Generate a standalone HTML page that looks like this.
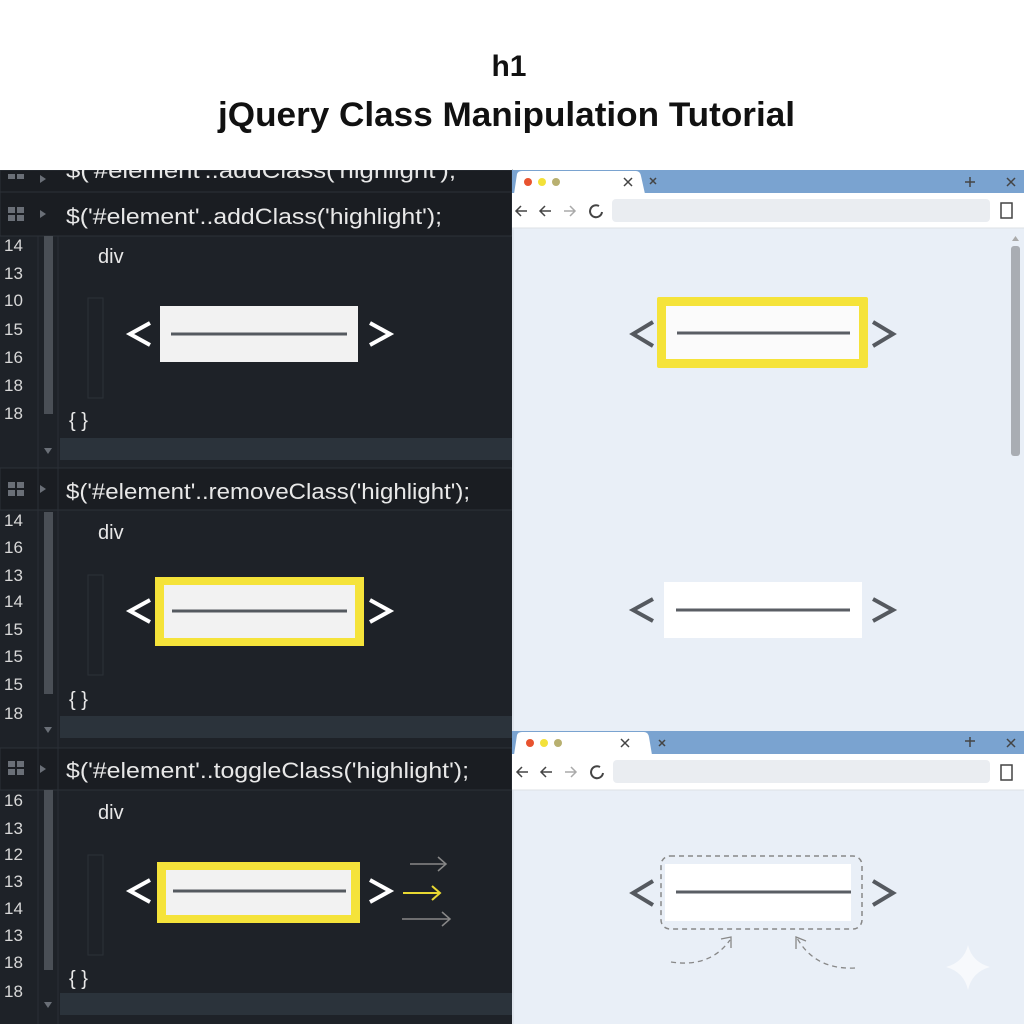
<!DOCTYPE html>
<html><head><meta charset="utf-8"><style>
html,body{margin:0;padding:0;background:#fff;}
svg{display:block;}
text{font-family:"Liberation Sans",sans-serif;}
</style></head><body>
<svg width="1024" height="1024" viewBox="0 0 1024 1024" xmlns="http://www.w3.org/2000/svg">
<rect width="1024" height="1024" fill="#fff"/>
<text x="509" y="76" font-size="30" font-weight="bold" text-anchor="middle" fill="#111">h1</text>
<text x="218" y="126" font-size="34" font-weight="bold" fill="#111" textLength="577" lengthAdjust="spacingAndGlyphs">jQuery Class Manipulation Tutorial</text>

<!-- LEFT PANEL -->
<rect x="0" y="170" width="512" height="854" fill="#1e2228"/>
<g fill="#1a1d22" stroke="#2c3138" stroke-width="1">
<rect x="0" y="170" width="512" height="22"/>
<rect x="0" y="192" width="512" height="44"/>
<rect x="0" y="468" width="512" height="42"/>
<rect x="0" y="748" width="512" height="42"/>
</g>
<line x1="38" y1="236" x2="38" y2="1024" stroke="#2a2f36"/>
<line x1="58" y1="236" x2="58" y2="1024" stroke="#2a2f36"/>
<g fill="#6a6f77">
<rect x="8" y="174" width="7" height="5"/><rect x="17" y="174" width="7" height="5"/>
<rect x="8" y="207" width="7" height="6"/><rect x="17" y="207" width="7" height="6"/><rect x="8" y="215" width="7" height="6"/><rect x="17" y="215" width="7" height="6"/>
<rect x="8" y="482" width="7" height="6"/><rect x="17" y="482" width="7" height="6"/><rect x="8" y="490" width="7" height="6"/><rect x="17" y="490" width="7" height="6"/>
<rect x="8" y="761" width="7" height="6"/><rect x="17" y="761" width="7" height="6"/><rect x="8" y="769" width="7" height="6"/><rect x="17" y="769" width="7" height="6"/>
<polygon points="40,175 46,179 40,183"/>
<polygon points="40,210 46,214 40,218"/>
<polygon points="40,485 46,489 40,493"/>
<polygon points="40,765 46,769 40,773"/>
<polygon points="44,448 52,448 48,454"/>
<polygon points="44,727 52,727 48,733"/>
<polygon points="44,1002 52,1002 48,1008"/>
</g>
<g fill="#e8e8e8" font-size="22">
<text x="66" y="178" textLength="390" lengthAdjust="spacingAndGlyphs">$('#element'..addClass('highlight');</text>
<text x="66" y="224" textLength="376" lengthAdjust="spacingAndGlyphs">$('#element'..addClass('highlight');</text>
<text x="66" y="499" textLength="404" lengthAdjust="spacingAndGlyphs">$('#element'..removeClass('highlight');</text>
<text x="66" y="778" textLength="403" lengthAdjust="spacingAndGlyphs">$('#element'..toggleClass('highlight');</text>
</g>
<rect x="0" y="160" width="512" height="10" fill="#fff"/>
<rect x="44" y="236" width="9" height="178" fill="#4a4f56"/>
<rect x="44" y="512" width="9" height="182" fill="#4a4f56"/>
<rect x="44" y="790" width="9" height="180" fill="#4a4f56"/>
<g fill="#d8d8d8" font-size="17">
<text x="4" y="251">14</text><text x="4" y="279">13</text><text x="4" y="306">10</text><text x="4" y="335">15</text><text x="4" y="363">16</text><text x="4" y="391">18</text><text x="4" y="419">18</text>
<text x="4" y="526">14</text><text x="4" y="553">16</text><text x="4" y="581">13</text><text x="4" y="607">14</text><text x="4" y="635">15</text><text x="4" y="662">15</text><text x="4" y="690">15</text><text x="4" y="719">18</text>
<text x="4" y="806">16</text><text x="4" y="834">13</text><text x="4" y="860">12</text><text x="4" y="887">13</text><text x="4" y="914">14</text><text x="4" y="941">13</text><text x="4" y="968">18</text><text x="4" y="997">18</text>
</g>
<g fill="#e8e8e8" font-size="20">
<text x="98" y="263">div</text><text x="98" y="539">div</text><text x="98" y="819">div</text>
<text x="69" y="427">{ }</text><text x="69" y="706">{ }</text><text x="69" y="985">{ }</text>
</g>
<g fill="none" stroke="#2c3138">
<rect x="88" y="298" width="15" height="100"/>
<rect x="88" y="575" width="15" height="100"/>
<rect x="88" y="855" width="15" height="100"/>
</g>
<rect x="60" y="438" width="452" height="22" fill="#2b333b"/>
<rect x="60" y="716" width="452" height="22" fill="#2b333b"/>
<rect x="60" y="993" width="452" height="22" fill="#2b333b"/>
<rect x="160" y="306" width="198" height="56" fill="#f2f2f2"/>
<line x1="171" y1="334" x2="347" y2="334" stroke="#555a60" stroke-width="3"/>
<rect x="155" y="577" width="209" height="69" fill="#f5e33a"/>
<rect x="164" y="585" width="191" height="53" fill="#f2f2f2"/>
<line x1="172" y1="611" x2="347" y2="611" stroke="#555a60" stroke-width="3"/>
<rect x="157" y="862" width="203" height="61" fill="#f5e33a"/>
<rect x="166" y="870" width="185" height="45" fill="#f2f2f2"/>
<line x1="173" y1="891" x2="346" y2="891" stroke="#555a60" stroke-width="3"/>
<g fill="none" stroke="#fff" stroke-width="4">
<polyline points="150,323 130,334 150,345"/><polyline points="370,323 390,334 370,345"/>
<polyline points="150,600 130,611 150,622"/><polyline points="370,600 390,611 370,622"/>
<polyline points="150,880 130,891 150,902"/><polyline points="370,880 390,891 370,902"/>
</g>
<g fill="none" stroke-width="1.5">
<g stroke="#888"><line x1="410" y1="864" x2="446" y2="864"/><polyline points="438,857 446,864 438,871"/>
<line x1="402" y1="919" x2="450" y2="919"/><polyline points="442,912 450,919 442,926"/></g>
<g stroke="#e8d832" stroke-width="2"><line x1="403" y1="893" x2="440" y2="893"/><polyline points="432,886 440,893 432,900"/></g>
</g>

<!-- RIGHT PANEL -->
<rect x="512" y="170" width="512" height="854" fill="#e9eff7"/>
<line x1="513" y1="170" x2="513" y2="1024" stroke="#d5dbe3"/>
<rect x="512" y="170" width="512" height="24" fill="#7aa3d0"/>
<path d="M514 194 L517 174 Q518 171 522 171 L636 171 Q640 171 641 176 L645 194 Z" fill="#fff"/>
<rect x="512" y="193" width="512" height="35" fill="#fff"/>
<line x1="512" y1="228" x2="1024" y2="228" stroke="#dde1e6"/>
<rect x="612" y="199" width="378" height="23" rx="4" fill="#eaedf1"/>
<circle cx="528" cy="182" r="4" fill="#e8532f"/><circle cx="542" cy="182" r="4" fill="#f3e13a"/><circle cx="556" cy="182" r="4" fill="#b8b070"/>
<g stroke="#444" stroke-width="1.5" fill="none">
<path d="M624 178 L632 186 M632 178 L624 186"/>
<path d="M650 178 L656 184 M656 178 L650 184"/>
<path d="M970 177 V187 M965 182 H975"/>
<path d="M1007 178 L1015 186 M1015 178 L1007 186"/>
<path d="M516 211 H527 M521 206 L516 211 L521 216"/>
<path d="M540 211 H551 M545 206 L540 211 L545 216"/>
<path d="M1001 203 H1012 V218 H1001 Z"/>
<path d="M599 206 A6 6 0 1 0 602 212" stroke-width="2"/>
</g>
<path d="M564 211 H575 M570 206 L575 211 L570 216" stroke="#aaa" stroke-width="1.5" fill="none"/>
<rect x="1011" y="246" width="9" height="210" rx="3" fill="#a9adb3"/>
<polygon points="1012,241 1019,241 1015.5,236" fill="#aaa"/>
<rect x="657" y="297" width="211" height="71" rx="2" fill="#f5e33a"/>
<rect x="666" y="306" width="193" height="53" fill="#fbfbfb"/>
<line x1="677" y1="333" x2="850" y2="333" stroke="#5a5e64" stroke-width="3"/>
<rect x="664" y="582" width="198" height="56" fill="#fff"/>
<line x1="676" y1="610" x2="850" y2="610" stroke="#5a5e64" stroke-width="3"/>
<rect x="512" y="731" width="512" height="24" fill="#7aa3d0"/>
<path d="M514 755 L517 735 Q518 732 522 732 L644 732 Q648 732 649 737 L652 755 Z" fill="#fff"/>
<rect x="512" y="754" width="512" height="36" fill="#fff"/>
<line x1="512" y1="790" x2="1024" y2="790" stroke="#dde1e6"/>
<rect x="613" y="760" width="377" height="23" rx="4" fill="#eaedf1"/>
<circle cx="530" cy="743" r="4" fill="#e8532f"/><circle cx="544" cy="743" r="4" fill="#f3e13a"/><circle cx="558" cy="743" r="4" fill="#b8b070"/>
<g stroke="#444" stroke-width="1.5" fill="none">
<path d="M621 739 L629 747 M629 739 L621 747"/>
<path d="M659 740 L665 746 M665 740 L659 746"/>
<path d="M970 737 V747 M965 741 H975"/>
<path d="M1007 739 L1015 747 M1015 739 L1007 747"/>
<path d="M517 772 H528 M522 767 L517 772 L522 777"/>
<path d="M541 772 H552 M546 767 L541 772 L546 777"/>
<path d="M1001 765 H1012 V780 H1001 Z"/>
<path d="M600 767 A6 6 0 1 0 603 773" stroke-width="2"/>
</g>
<path d="M565 772 H576 M571 767 L576 772 L571 777" stroke="#aaa" stroke-width="1.5" fill="none"/>
<rect x="665" y="864" width="186" height="57" fill="#fff"/>
<rect x="661" y="856" width="201" height="73" rx="9" fill="none" stroke="#888" stroke-width="1.5" stroke-dasharray="5,4"/>
<line x1="676" y1="892" x2="851" y2="892" stroke="#5a5e64" stroke-width="3"/>
<g fill="none" stroke="#55595f" stroke-width="4">
<polyline points="653,322 633,334 653,346"/><polyline points="873,322 893,334 873,346"/>
<polyline points="653,599 633,610 653,621"/><polyline points="873,599 893,610 873,621"/>
<polyline points="653,881 633,893 653,905"/><polyline points="873,881 893,893 873,905"/>
</g>
<g fill="none" stroke="#888" stroke-width="1.3">
<path d="M671 962 Q710 968 730 940" stroke-dasharray="5,4"/>
<path d="M721 939 L731 937 L731 948"/>
<path d="M855 968 Q815 970 797 938" stroke-dasharray="5,4"/>
<path d="M796 949 L796 937 L806 941"/>
</g>
<path d="M968 945 Q972 962 990 967 Q972 972 968 990 Q964 972 946 967 Q964 962 968 945 Z" fill="#f7f9fc"/>
</svg>
</body></html>
